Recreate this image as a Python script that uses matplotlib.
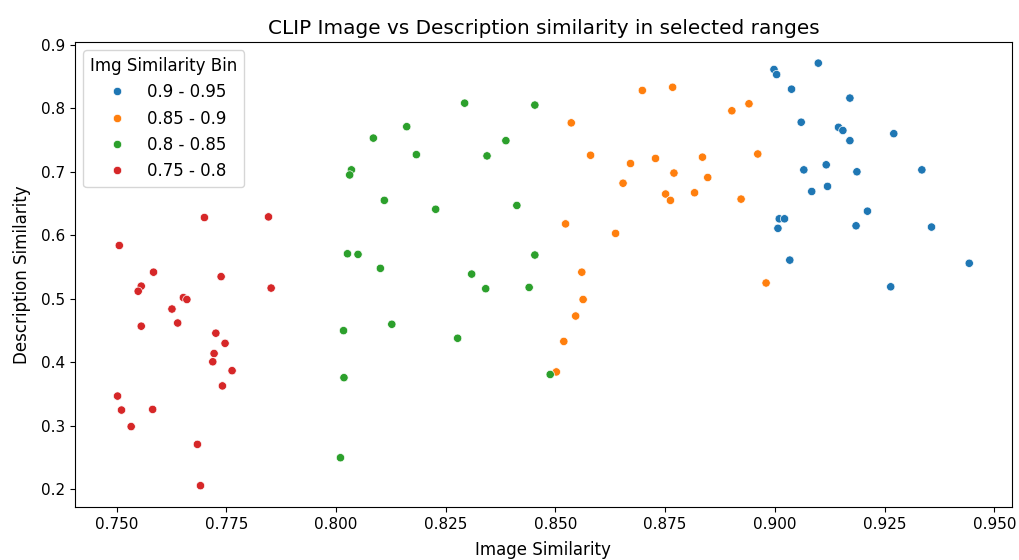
import pandas as pd
import matplotlib
matplotlib.use("Agg")
import matplotlib.pyplot as plt
import seaborn as sns

plt.rcParams["font.size"] = 12
plt.rcParams["xtick.labelsize"] = 11
plt.rcParams["ytick.labelsize"] = 11

# bins (legend order)
bins = ["0.9 - 0.95", "0.85 - 0.9", "0.8 - 0.85", "0.75 - 0.8"]

# 0.9 - 0.95
img_blue = [0.8998, 0.9004, 0.9099, 0.9038, 0.9171, 0.9060, 0.9145, 0.9155, 0.9171,
            0.9271, 0.9066, 0.9117, 0.9187, 0.9335, 0.9084, 0.9120, 0.9211, 0.9010,
            0.9022, 0.9007, 0.9185, 0.9357, 0.9034, 0.9443, 0.9264]
desc_blue = [0.861, 0.853, 0.871, 0.830, 0.816, 0.778, 0.770, 0.765, 0.749,
             0.760, 0.703, 0.711, 0.700, 0.703, 0.669, 0.677, 0.638, 0.626,
             0.626, 0.611, 0.615, 0.613, 0.561, 0.556, 0.519]

# 0.85 - 0.9
img_orange = [0.8698, 0.8767, 0.8536, 0.8902, 0.8941, 0.8580, 0.8671, 0.8728, 0.8835,
              0.8961, 0.8770, 0.8847, 0.8654, 0.8751, 0.8762, 0.8817, 0.8923, 0.8523,
              0.8637, 0.8560, 0.8563, 0.8546, 0.8519, 0.8502, 0.8980]
desc_orange = [0.828, 0.833, 0.777, 0.796, 0.807, 0.726, 0.713, 0.721, 0.723,
               0.728, 0.698, 0.691, 0.682, 0.665, 0.655, 0.667, 0.657, 0.618,
               0.603, 0.542, 0.499, 0.473, 0.433, 0.385, 0.525]

# 0.8 - 0.85
img_green = [0.8293, 0.8453, 0.8161, 0.8085, 0.8387, 0.8183, 0.8344, 0.8035, 0.8031,
             0.8110, 0.8227, 0.8412, 0.8026, 0.8050, 0.8453, 0.8101, 0.8309, 0.8341,
             0.8440, 0.8127, 0.8017, 0.8277, 0.8018, 0.8488, 0.8010]
desc_green = [0.808, 0.805, 0.771, 0.753, 0.749, 0.727, 0.725, 0.703, 0.695,
              0.655, 0.641, 0.647, 0.571, 0.570, 0.569, 0.548, 0.539, 0.516,
              0.518, 0.460, 0.450, 0.438, 0.376, 0.381, 0.250]

# 0.75 - 0.8
img_red = [0.7700, 0.7846, 0.7506, 0.7584, 0.7738, 0.7852, 0.7556, 0.7549, 0.7652,
           0.7660, 0.7626, 0.7556, 0.7639, 0.7726, 0.7747, 0.7722, 0.7719, 0.7763,
           0.7741, 0.7502, 0.7511, 0.7582, 0.7533, 0.7684, 0.7691]
desc_red = [0.628, 0.629, 0.584, 0.542, 0.535, 0.517, 0.520, 0.512, 0.502,
            0.499, 0.484, 0.457, 0.462, 0.446, 0.430, 0.414, 0.401, 0.387,
            0.363, 0.347, 0.325, 0.326, 0.299, 0.271, 0.206]

img = [img_blue, img_orange, img_green, img_red]
desc = [desc_blue, desc_orange, desc_green, desc_red]

frames = []
for b, xs, ys in zip(bins, img, desc):
    frames.append(pd.DataFrame({"Image Similarity": xs, "Description Similarity": ys,
                                "Img Similarity Bin": b}))
df = pd.concat(frames, ignore_index=True)

fig, ax = plt.subplots(figsize=(10.2, 5.6), dpi=100)
fig.subplots_adjust(left=0.0735, right=0.992, top=0.925, bottom=0.095)

sns.scatterplot(data=df, x="Image Similarity", y="Description Similarity",
                hue="Img Similarity Bin", hue_order=bins, ax=ax)

ax.set_title("CLIP Image vs Description similarity in selected ranges")
ax.set_xlabel("Image Similarity", labelpad=7)
ax.set_ylabel("Description Similarity", labelpad=7.5)
ax.legend(title="Img Similarity Bin", loc="upper left")

fig.savefig("out.png", dpi=100)
